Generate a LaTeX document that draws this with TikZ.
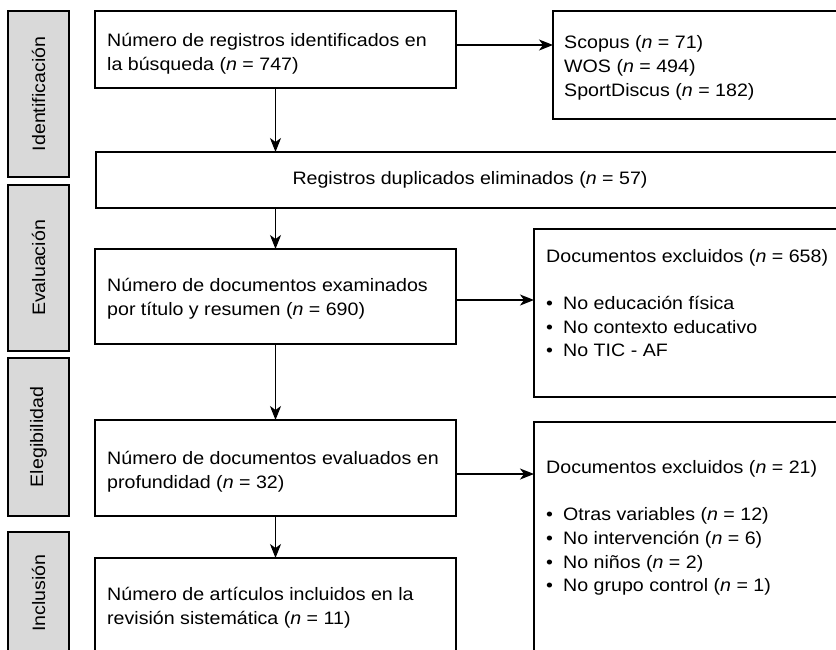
\documentclass[tikz,border=0pt]{standalone}
\usepackage{fontspec}
\setmainfont[FakeStretch=1.09]{Liberation Sans}
\usetikzlibrary{arrows.meta}
\definecolor{phasegray}{RGB}{217,217,217}
\begin{document}
\begin{tikzpicture}[x=1pt,y=-1pt,
  box/.style={draw, line width=1.4pt, anchor=north west, inner sep=0pt, outer sep=0pt},
  phase/.style={draw, line width=1.4pt, fill=phasegray, anchor=north west, inner sep=0pt, outer sep=0pt, minimum width=61pt},
  phasetxt/.style={rotate=90, font=\fontsize{18}{23}\selectfont, inner sep=0pt},
  arr/.style={-{Stealth[length=14pt,width=11pt,inset=4pt]}, line width=1.4pt},
  txt/.style={font=\fontsize{18}{23.7}\selectfont, align=left, anchor=west, inner sep=0pt}
]
\useasboundingbox (0,0) rectangle (836,649);
\clip (0,0) rectangle (836,649);

% phase bars
\node[phase, minimum height=166pt] (p1) at (8,11) {};
\node[phase, minimum height=166pt] (p2) at (8,185) {};
\node[phase, minimum height=158pt] (p3) at (8,358) {};
\node[phase, minimum height=122pt] (p4) at (8,532) {};
\node[phasetxt] (l1) at (p1.center) {Identificación};
\node[phasetxt] (l2) at (p2.center) {Evaluación};
\node[phasetxt] (l3) at (p3.center) {Elegibilidad};
\node[phasetxt] (l4) at (p4.center) {Inclusión};

% main boxes
\node[box, minimum width=361pt, minimum height=77pt] (b1) at (95,11) {};
\node[box, minimum width=748pt, minimum height=56pt, font=\fontsize{18}{23.7}\selectfont] (b2) at (96,152) {Registros duplicados eliminados (\textit{n} = 57)};
\node[box, minimum width=361pt, minimum height=95pt] (b3) at (95,249) {};
\node[box, minimum width=361pt, minimum height=96pt] (b4) at (95,420) {};
\node[box, minimum width=361pt, minimum height=150pt] (b5) at (95,558) {};

% right boxes
\node[box, minimum width=300pt, minimum height=108pt] (r1) at (553,11) {};
\node[box, minimum width=320pt, minimum height=168pt] (r2) at (534,229) {};
\node[box, minimum width=320pt, minimum height=300pt] (r3) at (534,422) {};

% texts
\node[txt] (t1) at (107,54) {Número de registros identificados en\\la búsqueda (\textit{n} = 747)};
\node[txt] (t3) at (107,299) {Número de documentos examinados\\por título y resumen (\textit{n} = 690)};
\node[txt] (t4) at (107,472) {Número de documentos evaluados en\\profundidad (\textit{n} = 32)};
\node[txt] (t5) at (107,608) {Número de artículos incluidos en la\\revisión sistemática (\textit{n} = 11)};
\node[txt] (tr1) at (564,68) {Scopus (\textit{n} = 71)\\WOS (\textit{n} = 494)\\SportDiscus (\textit{n} = 182)};
\node[txt] (tr2) at (546,303) {Documentos excluidos (\textit{n} = 658)\\[23.7pt]
\makebox[17pt][l]{\textbullet}No educación física\\
\makebox[17pt][l]{\textbullet}No contexto educativo\\
\makebox[17pt][l]{\textbullet}No TIC - AF};
\node[txt] (tr3) at (546,528) {Documentos excluidos (\textit{n} = 21)\\[23.7pt]
\makebox[17pt][l]{\textbullet}Otras variables (\textit{n} = 12)\\
\makebox[17pt][l]{\textbullet}No intervención (\textit{n} = 6)\\
\makebox[17pt][l]{\textbullet}No niños (\textit{n} = 2)\\
\makebox[17pt][l]{\textbullet}No grupo control (\textit{n} = 1)};

% helper coordinates for horizontal arrows
\coordinate (a1) at (0,45);
\coordinate (a2) at (0,300);
\coordinate (a3) at (0,474);

% vertical connectors
\draw[arr] (b1.south) -- (b1.south |- b2.north);
\draw[arr] (b3.north |- b2.south) -- (b3.north);
\draw[arr] (b3.south) -- (b4.north);
\draw[arr] (b4.south) -- (b5.north);
% horizontal connectors
\draw[arr] (b1.east |- a1) -- (r1.west |- a1);
\draw[arr] (b3.east |- a2) -- (r2.west |- a2);
\draw[arr] (b4.east |- a3) -- (r3.west |- a3);
\end{tikzpicture}
\end{document}
